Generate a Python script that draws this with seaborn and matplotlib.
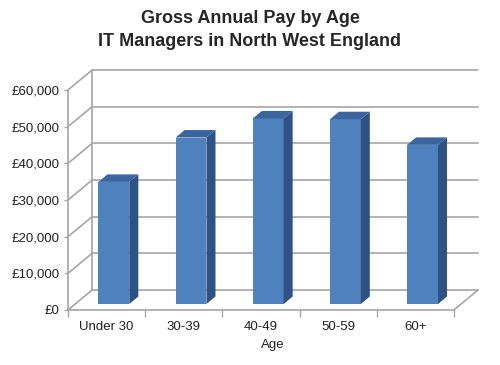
import numpy as np
import seaborn as sns
import matplotlib.pyplot as plt
from matplotlib.patches import Polygon
from matplotlib.transforms import Affine2D

ages = ['Under 30', '30-39', '40-49', '50-59', '60+']
pay = [33300, 45400, 50600, 50400, 43400]
yticks = [0, 10000, 20000, 30000, 40000, 50000, 60000]

sns.set_theme(style='white')
plt.rcParams['font.family'] = ['Liberation Sans', 'DejaVu Sans']

fig = plt.figure(figsize=(5, 3.65), dpi=100)
ax = fig.add_axes([68/500, 55/365, 410/500, 240/365])

front = '#4F81BD'
side = '#2E5283'
top = '#3B65A0'
grid = '#A6A6A6'

# depth of the back wall and of the bars (data units)
ox, oy = 0.3125, 5455
dx, dy = 0.094, 1636
sx, sy = 0.117, 2045

sns.barplot(x=ages, y=pay, ax=ax, color=front, width=0.4, saturation=1,
            edgecolor='none', zorder=3)

ax.set_xlim(-0.5, 4.5 + ox)
ax.set_ylim(0, 60000 + oy)

shift = Affine2D().translate(dx, dy) + ax.transData
for p in ax.patches:
    p.set_transform(shift)
    x0, x1 = p.get_x(), p.get_x() + p.get_width()
    h = p.get_height()
    ax.add_patch(Polygon([(x1, 0), (x1 + sx, sy), (x1 + sx, h + sy), (x1, h)],
                         closed=True, facecolor=side, edgecolor='none',
                         transform=shift, zorder=3))
    ax.add_patch(Polygon([(x0, h), (x1, h), (x1 + sx, h + sy), (x0 + sx, h + sy)],
                         closed=True, facecolor=top, edgecolor='none',
                         transform=shift, zorder=3))

# back wall, left wall and floor
for v in yticks:
    ax.plot([-0.5 + ox, 4.5 + ox], [v + oy, v + oy], color=grid, lw=1.2, zorder=1, clip_on=False)
    ax.plot([-0.5, -0.5 + ox], [v, v + oy], color=grid, lw=1.2, zorder=1, clip_on=False)
ax.plot([-0.5 + ox, -0.5 + ox], [oy, 60000 + oy], color=grid, lw=1.2, zorder=1, clip_on=False)
ax.plot([-0.5, -0.5], [0, 60000], color=grid, lw=1.2, zorder=2, clip_on=False)
ax.plot([-0.5, 4.5], [0, 0], color=grid, lw=1.2, zorder=2, clip_on=False)
ax.plot([4.5, 4.5 + ox], [0, oy], color=grid, lw=1.2, zorder=2, clip_on=False)

for s in ax.spines.values():
    s.set_visible(False)

ax.set_yticks(yticks)
ax.set_yticklabels(['£{:,}'.format(v) for v in yticks])
ax.tick_params(axis='y', left=True, length=3, width=1, color=grid, pad=3,
               labelsize=9.5, labelcolor='#222222')

ax.set_xticks(range(len(ages)))
ax.set_xticklabels(ages)
ax.set_xticks(np.arange(-0.5, 5, 1), minor=True)
ax.tick_params(axis='x', which='major', length=0, pad=8, labelsize=9.5, labelcolor='#222222')
ax.tick_params(axis='x', which='minor', bottom=True, length=5, width=1, color=grid)

ax.set_xlabel('Age', fontsize=9.5, color='#222222', labelpad=4)
ax.set_ylabel('')

fig.text(0.5, 1 - 30/365, 'Gross Annual Pay by Age\nIT Managers in North West England',
         ha='center', va='center', fontsize=13, fontweight='bold', linespacing=1.45)

fig.savefig('out.png', dpi=100, facecolor='white')
